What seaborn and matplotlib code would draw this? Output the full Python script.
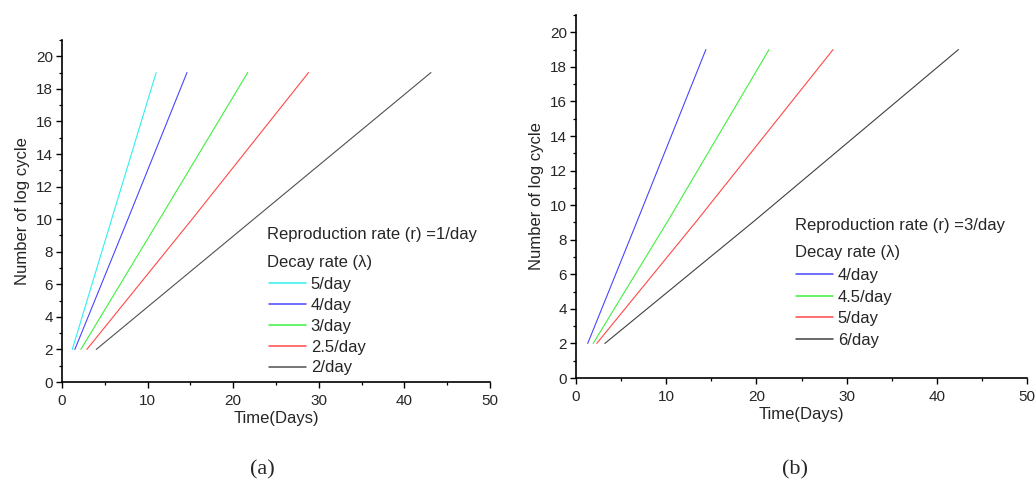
import numpy as np
import pandas as pd
import matplotlib
matplotlib.use("Agg")
import matplotlib.pyplot as plt
import seaborn as sns
from matplotlib.ticker import MultipleLocator

# ---------------- data ----------------
log_cycles_a = [2, 10, 19]
log_cycles_b = [2, 9.1, 19]

# panel (a): reproduction rate r = 1/day
decay_a = ["5/day", "4/day", "3/day", "2.5/day", "2/day"]
time_a_5 = [1.2, 5.8, 11.0]
time_a_4 = [1.5, 7.7, 14.6]
time_a_3 = [2.2, 11.4, 21.7]
time_a_25 = [2.9, 15.2, 28.8]
time_a_2 = [4.0, 22.4, 43.1]
times_a = [time_a_5, time_a_4, time_a_3, time_a_25, time_a_2]
colors_a = ["#30F0F0", "#4848FF", "#40F040", "#FF4848", "#505050"]

# panel (b): reproduction rate r = 3/day
decay_b = ["4/day", "4.5/day", "5/day", "6/day"]
time_b_4 = [1.3, 6.8, 14.4]
time_b_45 = [1.9, 10.2, 21.4]
time_b_5 = [2.3, 13.4, 28.5]
time_b_6 = [3.2, 19.8, 42.4]
times_b = [time_b_4, time_b_45, time_b_5, time_b_6]
colors_b = ["#4848FF", "#40F040", "#FF4848", "#404040"]

title_a = "Reproduction rate (r) =1/day"
title_b = "Reproduction rate (r) =3/day"
decay_title = "Decay rate (\u03bb)"
xlabel = "Time(Days)"
ylabel = "Number of log cycle"


def long_df(labels, times, ys):
    rows = []
    for lab, ts in zip(labels, times):
        for t, y in zip(ts, ys):
            rows.append({"Decay": lab, "Time": t, "Log": y})
    return pd.DataFrame(rows)


df_a = long_df(decay_a, times_a, log_cycles_a)
df_b = long_df(decay_b, times_b, log_cycles_b)

sns.set_theme(style="white")
plt.rcParams["font.family"] = ["Liberation Sans", "DejaVu Sans"]

FS = 12

fig = plt.figure(figsize=(10.35, 4.98), dpi=100)
ax_a = fig.add_axes([62 / 1035, 1 - 382 / 498, 428 / 1035, 342 / 498])
ax_b = fig.add_axes([576 / 1035, 1 - 378 / 498, 451 / 1035, 363 / 498])


def style_axes(ax):
    ax.set_xlim(0, 50)
    ax.set_ylim(0, 21)
    ax.xaxis.set_major_locator(MultipleLocator(10))
    ax.xaxis.set_minor_locator(MultipleLocator(5))
    ax.yaxis.set_major_locator(MultipleLocator(2))
    ax.yaxis.set_minor_locator(MultipleLocator(1))
    for s in ["top", "right"]:
        ax.spines[s].set_visible(False)
    for s in ["left", "bottom"]:
        ax.spines[s].set_color("black")
        ax.spines[s].set_linewidth(1.2)
    ax.tick_params(which="major", direction="out", length=4.5, width=1.0,
                   color="black", labelsize=11, pad=2,
                   left=True, bottom=True)
    ax.tick_params(axis="x", which="major", pad=4)
    ax.tick_params(which="minor", direction="out", length=2.5, width=0.9,
                   color="black", left=True, bottom=True)
    ax.set_xlabel(xlabel, fontsize=FS, labelpad=2)
    ax.set_ylabel(ylabel, fontsize=FS, labelpad=4)


sns.lineplot(data=df_a, x="Time", y="Log", hue="Decay", hue_order=decay_a,
             palette=dict(zip(decay_a, colors_a)), estimator=None,
             linewidth=0.8, ax=ax_a)
sns.lineplot(data=df_b, x="Time", y="Log", hue="Decay", hue_order=decay_b,
             palette=dict(zip(decay_b, colors_b)), estimator=None,
             linewidth=0.8, ax=ax_b)

for ax in (ax_a, ax_b):
    style_axes(ax)

# legends
for ax, title, tx, ty, dy, lx, ly, ls in [
    (ax_a, title_a, 267, 235, 262, 269, 277, 0.35),
    (ax_b, title_b, 795, 225, 252, 796, 268, 0.39),
]:
    fig.text(tx / 1035, 1 - ty / 498, title, fontsize=FS, va="center", ha="left")
    fig.text(tx / 1035, 1 - dy / 498, decay_title, fontsize=FS, va="center", ha="left")
    handles, labels = ax.get_legend_handles_labels()
    for h in handles:
        h.set_linewidth(1.1)
    ax.legend(handles, labels, loc="upper left",
              bbox_to_anchor=(lx / 1035, 1 - ly / 498),
              bbox_transform=fig.transFigure, frameon=False,
              fontsize=FS, handlelength=2.2, handletextpad=0.3,
              labelspacing=ls, borderpad=0, borderaxespad=0)

fig.text(262 / 1035, 1 - 470 / 498, "(a)", fontsize=16, family="Liberation Serif",
         ha="center", va="center")
fig.text(795 / 1035, 1 - 470 / 498, "(b)", fontsize=16, family="Liberation Serif",
         ha="center", va="center")

fig.savefig("out.png", dpi=100)
